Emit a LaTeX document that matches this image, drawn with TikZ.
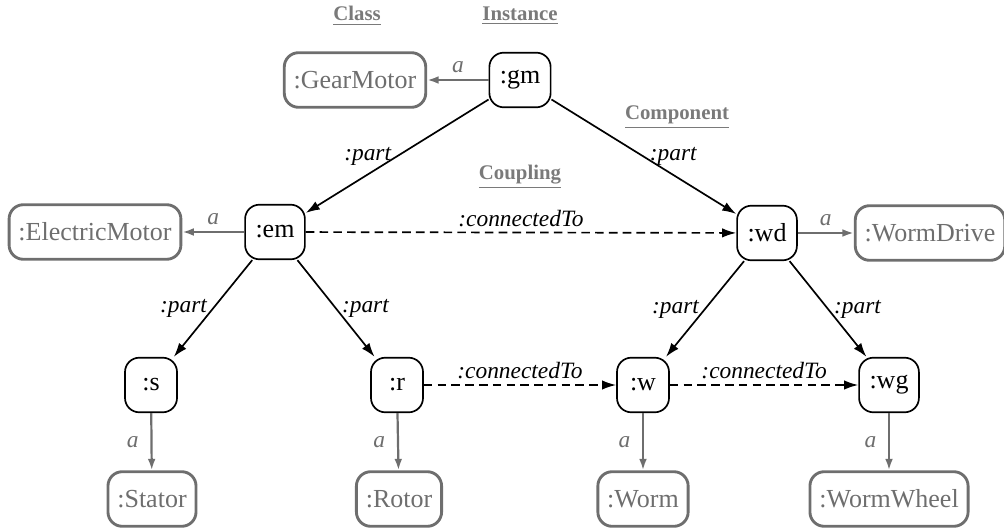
\documentclass[tikz,border=0pt]{standalone}
\usepackage{fontspec}
\setmainfont{Liberation Serif}
\usetikzlibrary{arrows.meta}
\definecolor{clsgray}{HTML}{6E6E6E}
\definecolor{ttlgray}{HTML}{7A7A7A}
\tikzset{
  inst/.style={draw=black, line width=0.65pt, rounded corners=5.5pt,
    minimum width=20pt, minimum height=21pt, inner xsep=4pt, inner ysep=2pt,
    font=\fontsize{10}{12}\selectfont},
  cls/.style={draw=clsgray, text=clsgray, line width=1.1pt, rounded corners=5.5pt,
    minimum width=20pt, minimum height=21pt, inner xsep=3.6pt, inner ysep=2pt,
    font=\fontsize{10}{12}\selectfont},
  ttl/.style={text=ttlgray, font=\fontsize{8}{10}\selectfont\bfseries},
  part/.style={draw=black, line width=0.65pt, -{Latex[length=5.4pt,width=3.6pt]}},
  coupl/.style={part, dash pattern=on 3.3pt off 2pt},
  isa/.style={draw=clsgray, line width=0.85pt, -{Latex[length=4.4pt,width=3pt]}},
  elab/.style={font=\fontsize{9}{11}\selectfont\itshape, inner sep=2pt},
  alab/.style={font=\fontsize{9}{11}\selectfont\itshape, text=clsgray, inner sep=2.5pt},
  alabv/.style={alab, inner xsep=4.5pt},
}
\newcommand{\ttltext}[1]{\underline{#1}}
\begin{document}
\begin{tikzpicture}[x=0.3846pt, y=-0.3846pt]
\useasboundingbox (0,0) rectangle (1004,529);

% column headings
\node[ttl] (hcls)  at (357,16)  {\ttltext{Class}};
\node[ttl] (hinst) at (520,16)  {\ttltext{Instance}};
\node[ttl] (hcomp) at (677,117) {\ttltext{Component}};
\node[ttl] (hcoup) at (520,177) {\ttltext{Coupling}};

% instances
\node[inst] (gm) at (520,80)  {:gm};
\node[inst] (em) at (275,232) {:em};
\node[inst] (wd) at (767,233) {:wd};
\node[inst] (s)  at (151,385) {:s};
\node[inst] (r)  at (397,385) {:r};
\node[inst] (w)  at (643,385) {:w};
\node[inst] (wg) at (889,385) {:wg};

% classes
\node[cls] (cGM) at (355,80)  {:GearMotor};
\node[cls] (cEM) at (95,232)  {:ElectricMotor};
\node[cls] (cWD) at (930,233) {:WormDrive};
\node[cls] (cS)  at (152,499) {:Stator};
\node[cls] (cR)  at (399,499) {:Rotor};
\node[cls] (cW)  at (643,499) {:Worm};
\node[cls] (cWG) at (889,499) {:WormWheel};

% part-of relations
\draw[part] (gm) -- node[elab, midway, left]  {:part} (em);
\draw[part] (gm) -- node[elab, midway, right] {:part} (wd);
\draw[part] (em) -- node[elab, midway, left]  {:part} (s);
\draw[part] (em) -- node[elab, midway, right] {:part} (r);
\draw[part] (wd) -- node[elab, midway, left]  {:part} (w);
\draw[part] (wd) -- node[elab, midway, right] {:part} (wg);

% couplings
\draw[coupl] (em) -- node[elab, midway, above] {:connectedTo} (wd);
\draw[coupl] (r)  -- node[elab, midway, above] {:connectedTo} (w);
\draw[coupl] (w)  -- node[elab, midway, above] {:connectedTo} (wg);

% type assertions
\draw[isa] (gm) -- node[alab, midway, above] {a} (cGM);
\draw[isa] (em) -- node[alab, midway, above] {a} (cEM);
\draw[isa] (wd) -- node[alab, midway, above] {a} (cWD);
\draw[isa] (s)  -- node[alabv, midway, left]  {a} (cS);
\draw[isa] (r)  -- node[alabv, midway, left]  {a} (cR);
\draw[isa] (w)  -- node[alabv, midway, left]  {a} (cW);
\draw[isa] (wg) -- node[alabv, midway, left]  {a} (cWG);
\end{tikzpicture}
\end{document}
